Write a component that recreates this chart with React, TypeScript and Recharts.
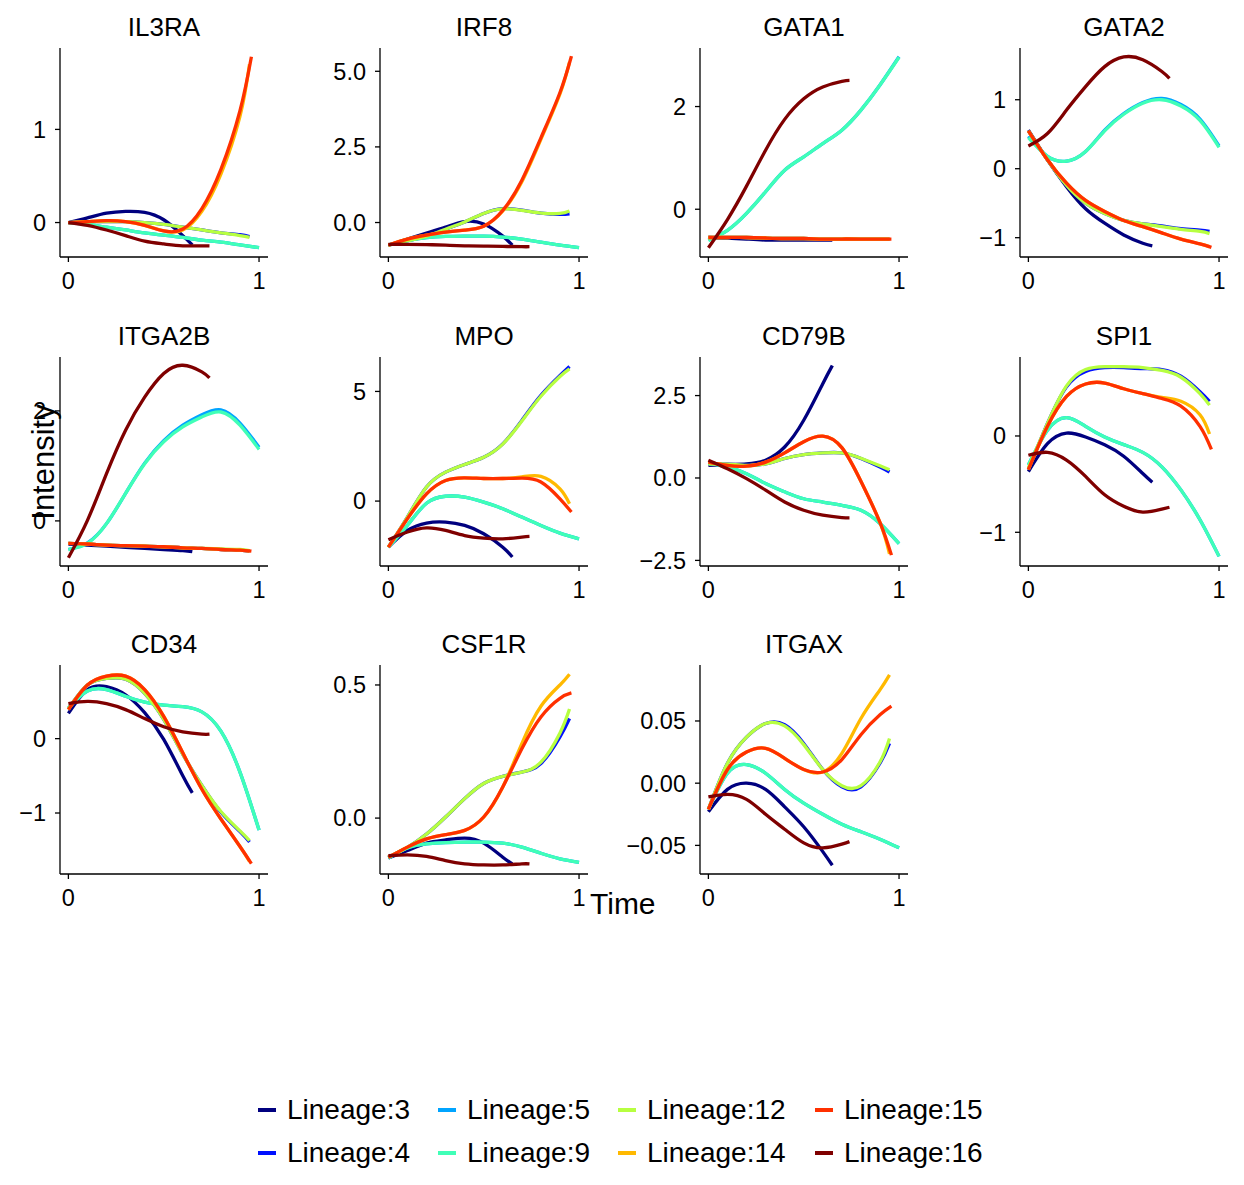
import { Line, LineChart, XAxis, YAxis } from "recharts";

const FONT = "'Liberation Sans', Arial, sans-serif";

const LINEAGES = ["3", "4", "5", "9", "12", "14", "15", "16"];
const COLORS = ["#00007f", "#0010ff", "#00a4ff", "#40ffb7", "#b7ff40", "#ffb900", "#ff3000", "#7f0000"];

// pseudotime sample points, one list per lineage (they stop at different times)
const T3 = [0, 0.1, 0.2, 0.3, 0.4, 0.5, 0.6, 0.65];
const T4 = [0, 0.1, 0.2, 0.3, 0.4, 0.5, 0.6, 0.7, 0.8, 0.9, 0.95];
const T5 = [0, 0.1, 0.2, 0.3, 0.4, 0.5, 0.6, 0.7, 0.8, 0.9, 1.0];
const T9 = [0, 0.1, 0.2, 0.3, 0.4, 0.5, 0.6, 0.7, 0.8, 0.9, 1.0];
const T12 = [0, 0.1, 0.2, 0.3, 0.4, 0.5, 0.6, 0.7, 0.8, 0.9, 0.95];
const T14 = [0, 0.1, 0.2, 0.3, 0.4, 0.5, 0.6, 0.7, 0.8, 0.9, 0.95];
const T15 = [0, 0.1, 0.2, 0.3, 0.4, 0.5, 0.6, 0.7, 0.8, 0.9, 0.96];
const T16 = [0, 0.1, 0.2, 0.3, 0.4, 0.5, 0.6, 0.7, 0.74];
const TIMES = [T3, T4, T5, T9, T12, T14, T15, T16];

// values per gene, in lineage order 3, 4, 5, 9, 12, 14, 15, 16
const IL3RA = [
  [0, 0.05, 0.1, 0.12, 0.11, 0.03, -0.14, -0.24],
  [0, 0.01, 0.01, 0.01, 0.0, -0.02, -0.05, -0.08, -0.11, -0.13, -0.15],
  [0, -0.02, -0.05, -0.08, -0.11, -0.135, -0.16, -0.19, -0.21, -0.24, -0.27],
  [0, -0.02, -0.05, -0.08, -0.11, -0.135, -0.16, -0.19, -0.21, -0.24, -0.27],
  [0, 0.01, 0.01, 0.01, 0.0, -0.02, -0.05, -0.08, -0.11, -0.14, -0.16],
  [0, 0.01, 0.02, 0.01, -0.03, -0.09, -0.08, 0.12, 0.52, 1.14, 1.7],
  [0, 0.01, 0.02, 0.01, -0.03, -0.09, -0.07, 0.15, 0.57, 1.2, 1.78],
  [0, -0.03, -0.08, -0.14, -0.2, -0.23, -0.25, -0.25, -0.25],
];
const IRF8 = [
  [-0.75, -0.55, -0.35, -0.15, 0.03, -0.05, -0.45, -0.75],
  [-0.75, -0.6, -0.45, -0.22, 0.02, 0.3, 0.46, 0.41, 0.31, 0.27, 0.29],
  [-0.75, -0.6, -0.5, -0.46, -0.45, -0.45, -0.48, -0.55, -0.65, -0.75, -0.83],
  [-0.75, -0.6, -0.5, -0.46, -0.45, -0.45, -0.48, -0.55, -0.65, -0.75, -0.83],
  [-0.75, -0.6, -0.45, -0.22, 0.02, 0.3, 0.45, 0.4, 0.31, 0.3, 0.38],
  [-0.75, -0.55, -0.42, -0.32, -0.25, -0.12, 0.38, 1.35, 2.75, 4.25, 5.3],
  [-0.75, -0.55, -0.42, -0.32, -0.25, -0.12, 0.4, 1.4, 2.8, 4.3, 5.5],
  [-0.72, -0.72, -0.73, -0.75, -0.77, -0.78, -0.79, -0.8, -0.8],
];
const GATA1 = [
  [-0.55, -0.56, -0.58, -0.6, -0.6, -0.6, -0.6, -0.6],
  [-0.55, -0.55, -0.55, -0.56, -0.57, -0.57, -0.58, -0.58, -0.58, -0.58, -0.58],
  [-0.6, -0.41, -0.08, 0.34, 0.76, 1.02, 1.28, 1.54, 1.93, 2.42, 2.97],
  [-0.61, -0.41, -0.08, 0.34, 0.76, 1.02, 1.28, 1.54, 1.93, 2.42, 2.96],
  [-0.55, -0.55, -0.55, -0.56, -0.57, -0.57, -0.58, -0.58, -0.58, -0.58, -0.58],
  [-0.55, -0.55, -0.55, -0.56, -0.57, -0.57, -0.58, -0.58, -0.58, -0.58, -0.58],
  [-0.55, -0.55, -0.55, -0.56, -0.57, -0.57, -0.58, -0.58, -0.58, -0.58, -0.58],
  [-0.75, -0.2, 0.45, 1.15, 1.75, 2.15, 2.38, 2.49, 2.51],
];
const GATA2 = [
  [0.56, 0.13, -0.26, -0.58, -0.79, -0.96, -1.08, -1.12],
  [0.55, 0.13, -0.24, -0.5, -0.65, -0.75, -0.8, -0.83, -0.87, -0.89, -0.91],
  [0.47, 0.18, 0.11, 0.25, 0.56, 0.8, 0.96, 1.02, 0.93, 0.72, 0.33],
  [0.45, 0.18, 0.11, 0.25, 0.55, 0.79, 0.95, 1.0, 0.91, 0.7, 0.31],
  [0.55, 0.13, -0.24, -0.5, -0.65, -0.75, -0.8, -0.84, -0.88, -0.91, -0.94],
  [0.55, 0.13, -0.21, -0.46, -0.62, -0.75, -0.84, -0.93, -1.02, -1.09, -1.13],
  [0.55, 0.13, -0.21, -0.46, -0.62, -0.75, -0.84, -0.93, -1.02, -1.09, -1.14],
  [0.33, 0.51, 0.85, 1.19, 1.48, 1.62, 1.58, 1.41, 1.31],
];
const ITGA2B = [
  [-0.42, -0.44, -0.46, -0.48, -0.5, -0.52, -0.54, -0.56],
  [-0.41, -0.42, -0.44, -0.45, -0.46, -0.47, -0.49, -0.5, -0.52, -0.53, -0.55],
  [-0.52, -0.4, -0.05, 0.5, 1.05, 1.46, 1.74, 1.93, 2.02, 1.78, 1.34],
  [-0.52, -0.41, -0.05, 0.5, 1.04, 1.44, 1.71, 1.89, 1.98, 1.74, 1.3],
  [-0.41, -0.42, -0.44, -0.45, -0.46, -0.47, -0.49, -0.5, -0.51, -0.52, -0.54],
  [-0.41, -0.42, -0.44, -0.45, -0.46, -0.47, -0.49, -0.5, -0.52, -0.53, -0.55],
  [-0.41, -0.42, -0.44, -0.45, -0.46, -0.47, -0.49, -0.5, -0.52, -0.53, -0.55],
  [-0.67, 0.01, 0.86, 1.65, 2.25, 2.68, 2.83, 2.71, 2.6],
];
const MPO = [
  [-2.1, -1.34, -1.0, -0.96, -1.11, -1.49, -2.1, -2.55],
  [-2.1, -0.73, 0.64, 1.32, 1.67, 2.0, 2.61, 3.68, 4.82, 5.73, 6.14],
  [-2.1, -1.1, -0.1, 0.22, 0.18, -0.05, -0.35, -0.73, -1.11, -1.46, -1.72],
  [-2.1, -1.1, -0.1, 0.22, 0.18, -0.05, -0.35, -0.73, -1.11, -1.46, -1.72],
  [-2.1, -0.73, 0.64, 1.32, 1.67, 2.0, 2.6, 3.65, 4.78, 5.68, 6.03],
  [-2.1, -0.8, 0.33, 0.94, 1.06, 1.03, 1.03, 1.1, 1.13, 0.56, -0.12],
  [-2.1, -0.8, 0.33, 0.94, 1.06, 1.03, 1.03, 1.05, 0.87, 0.1, -0.5],
  [-1.76, -1.41, -1.22, -1.34, -1.57, -1.69, -1.72, -1.64, -1.61],
];
const CD79B = [
  [0.38, 0.41, 0.43, 0.54, 0.94, 1.75, 2.86, 3.41],
  [0.42, 0.42, 0.38, 0.43, 0.59, 0.71, 0.76, 0.76, 0.59, 0.33, 0.18],
  [0.45, 0.33, 0.13, -0.17, -0.42, -0.63, -0.73, -0.83, -0.98, -1.38, -1.99],
  [0.45, 0.33, 0.13, -0.17, -0.42, -0.63, -0.73, -0.83, -0.98, -1.38, -1.99],
  [0.42, 0.42, 0.38, 0.43, 0.59, 0.71, 0.76, 0.76, 0.6, 0.37, 0.25],
  [0.48, 0.38, 0.36, 0.48, 0.76, 1.1, 1.27, 0.92, -0.1, -1.35, -2.3],
  [0.48, 0.38, 0.36, 0.48, 0.76, 1.1, 1.27, 0.92, -0.1, -1.35, -2.34],
  [0.54, 0.28, -0.02, -0.37, -0.73, -0.98, -1.13, -1.2, -1.21],
];
const SPI1 = [
  [-0.37, -0.08, 0.03, -0.01, -0.09, -0.21, -0.39, -0.48],
  [-0.35, 0.13, 0.51, 0.67, 0.71, 0.71, 0.7, 0.69, 0.62, 0.46, 0.36],
  [-0.3, 0.06, 0.19, 0.1, -0.01, -0.09, -0.17, -0.32, -0.56, -0.87, -1.25],
  [-0.3, 0.06, 0.19, 0.1, -0.01, -0.09, -0.17, -0.32, -0.56, -0.87, -1.25],
  [-0.33, 0.13, 0.52, 0.69, 0.72, 0.72, 0.71, 0.68, 0.61, 0.44, 0.32],
  [-0.35, 0.1, 0.41, 0.54, 0.55, 0.49, 0.44, 0.4, 0.36, 0.22, 0.02],
  [-0.35, 0.1, 0.41, 0.54, 0.55, 0.49, 0.44, 0.39, 0.31, 0.1, -0.14],
  [-0.2, -0.17, -0.25, -0.42, -0.61, -0.73, -0.79, -0.76, -0.74],
];
const CD34 = [
  [0.34, 0.66, 0.7, 0.59, 0.35, -0.01, -0.5, -0.73],
  [0.4, 0.72, 0.81, 0.8, 0.61, 0.26, -0.21, -0.63, -0.99, -1.25, -1.39],
  [0.41, 0.64, 0.66, 0.57, 0.49, 0.45, 0.43, 0.36, 0.1, -0.45, -1.23],
  [0.41, 0.64, 0.66, 0.57, 0.49, 0.45, 0.43, 0.36, 0.1, -0.45, -1.23],
  [0.4, 0.72, 0.81, 0.8, 0.61, 0.26, -0.21, -0.63, -0.98, -1.24, -1.37],
  [0.39, 0.72, 0.84, 0.84, 0.66, 0.3, -0.19, -0.68, -1.08, -1.45, -1.65],
  [0.39, 0.72, 0.84, 0.84, 0.66, 0.3, -0.19, -0.68, -1.08, -1.45, -1.68],
  [0.47, 0.5, 0.47, 0.39, 0.27, 0.16, 0.09, 0.06, 0.06],
];
const CSF1R = [
  [-0.15, -0.122, -0.094, -0.082, -0.075, -0.094, -0.147, -0.172],
  [-0.147, -0.11, -0.06, 0.004, 0.073, 0.13, 0.157, 0.173, 0.205, 0.305, 0.374],
  [-0.15, -0.112, -0.097, -0.092, -0.09, -0.09, -0.094, -0.109, -0.132, -0.153, -0.166],
  [-0.15, -0.112, -0.097, -0.092, -0.09, -0.09, -0.094, -0.109, -0.132, -0.153, -0.166],
  [-0.147, -0.11, -0.06, 0.004, 0.073, 0.13, 0.157, 0.173, 0.21, 0.32, 0.41],
  [-0.147, -0.109, -0.078, -0.062, -0.046, 0.004, 0.117, 0.28, 0.42, 0.5, 0.54],
  [-0.147, -0.109, -0.078, -0.062, -0.046, 0.004, 0.117, 0.26, 0.38, 0.45, 0.47],
  [-0.141, -0.138, -0.144, -0.16, -0.172, -0.176, -0.176, -0.172, -0.172],
];
const ITGAX = [
  [-0.023, -0.005, 0.0, -0.005, -0.019, -0.035, -0.055, -0.066],
  [-0.021, 0.016, 0.037, 0.048, 0.047, 0.032, 0.011, -0.003, -0.003, 0.016, 0.032],
  [-0.021, 0.008, 0.015, 0.008, -0.005, -0.016, -0.025, -0.033, -0.039, -0.045, -0.052],
  [-0.021, 0.008, 0.015, 0.008, -0.005, -0.016, -0.025, -0.033, -0.039, -0.045, -0.052],
  [-0.021, 0.016, 0.037, 0.048, 0.046, 0.031, 0.011, -0.002, -0.002, 0.017, 0.036],
  [-0.021, 0.011, 0.025, 0.028, 0.02, 0.011, 0.009, 0.024, 0.052, 0.075, 0.087],
  [-0.021, 0.011, 0.025, 0.028, 0.02, 0.011, 0.009, 0.019, 0.039, 0.055, 0.062],
  [-0.011, -0.009, -0.013, -0.025, -0.037, -0.048, -0.052, -0.049, -0.047],
];

const GENES = ["IL3RA", "IRF8", "GATA1", "GATA2", "ITGA2B", "MPO", "CD79B", "SPI1", "CD34", "CSF1R", "ITGAX"];
const GENE_VALUES = [IL3RA, IRF8, GATA1, GATA2, ITGA2B, MPO, CD79B, SPI1, CD34, CSF1R, ITGAX];
const Y_TICKS = [[0, 1], [0, 2.5, 5], [0, 2], [-1, 0, 1], [0, 2], [0, 5], [-2.5, 0, 2.5], [-1, 0], [-1, 0], [0, 0.5], [-0.05, 0, 0.05]];
const Y_DECIMALS = [0, 1, 0, 0, 0, 0, 1, 0, 0, 1, 2];
const Y_DOMAINS = [
  [-0.37, 1.874], [-1.14, 5.77], [-0.93, 3.14], [-1.28, 1.75], [-0.82, 2.98], [-2.96, 6.57],
  [-2.67, 3.67], [-1.35, 0.82], [-1.82, 0.99], [-0.21, 0.575], [-0.073, 0.095],
];
const X_TICKS = [0, 1];
const X_DOMAIN = [-0.044, 1.047];

const COL_X = [60, 380, 700, 1020];
const ROW_Y = [48, 357, 665];
const PW = 208;
const PH = 209;
const YW = 90;

const fmt = (d: number) => (v: number) => v.toFixed(d).replace("-", "\u2212");

function Panel({ idx }: { idx: number }) {
  const left = COL_X[idx % 4];
  const top = ROW_Y[Math.floor(idx / 4)];
  const vals = GENE_VALUES[idx];
  const tick = { fill: "#000", fontSize: 23.5, fontFamily: FONT };
  return (
    <div style={{ position: "absolute", left: left - YW, top }}>
      <div
        style={{
          position: "absolute",
          left: YW,
          width: PW,
          top: -36,
          height: 30,
          lineHeight: "30px",
          textAlign: "center",
          fontSize: 26,
        }}
      >
        {GENES[idx]}
      </div>
      <LineChart width={YW + PW} height={PH + 45} margin={{ top: 0, right: 0, bottom: 0, left: 0 }}>
        <XAxis
          type="number"
          dataKey="t"
          domain={X_DOMAIN}
          ticks={X_TICKS}
          allowDataOverflow
          height={45}
          tick={tick}
          tickSize={5}
          tickMargin={10}
          stroke="#000"
          strokeWidth={1.3}
        />
        <YAxis
          type="number"
          domain={Y_DOMAINS[idx]}
          ticks={Y_TICKS[idx]}
          allowDataOverflow
          width={YW}
          tick={tick}
          tickSize={5}
          tickMargin={9}
          tickFormatter={fmt(Y_DECIMALS[idx])}
          stroke="#000"
          strokeWidth={1.3}
        />
        {LINEAGES.map((lin, i) => (
          <Line
            key={lin}
            data={TIMES[i].map((t, j) => ({ t, v: vals[i][j] }))}
            dataKey="v"
            type="natural"
            stroke={COLORS[i]}
            strokeWidth={3.3}
            dot={false}
            activeDot={false}
            isAnimationActive={false}
          />
        ))}
      </LineChart>
    </div>
  );
}

const LEGEND_X = [258, 438, 618, 815];
const LEGEND_Y = [1110, 1153];

export default function App() {
  return (
    <div
      style={{
        position: "absolute",
        left: 0,
        top: 0,
        width: 1244,
        height: 1185,
        background: "#fff",
        fontFamily: FONT,
        color: "#000",
        overflow: "hidden",
      }}
    >
      {GENES.map((g, i) => (
        <Panel key={g} idx={i} />
      ))}
      <div
        style={{
          position: "absolute",
          left: 44 - 100,
          top: 462 - 20,
          width: 200,
          height: 40,
          lineHeight: "40px",
          textAlign: "center",
          fontSize: 31,
          transform: "rotate(-90deg)",
        }}
      >
        Intensity
      </div>
      <div style={{ position: "absolute", left: 590, top: 884, height: 40, lineHeight: "40px", fontSize: 30 }}>Time</div>
      {LINEAGES.map((lin, i) => {
        const col = Math.floor(i / 2);
        const row = i % 2;
        return (
          <div
            key={lin}
            style={{
              position: "absolute",
              left: LEGEND_X[col],
              top: LEGEND_Y[row] - 20,
              height: 40,
              display: "flex",
              alignItems: "center",
              fontSize: 28,
              whiteSpace: "nowrap",
            }}
          >
            <span style={{ display: "inline-block", width: 18, height: 4, background: COLORS[i], marginRight: 11 }} />
            Lineage:{lin}
          </div>
        );
      })}
    </div>
  );
}
